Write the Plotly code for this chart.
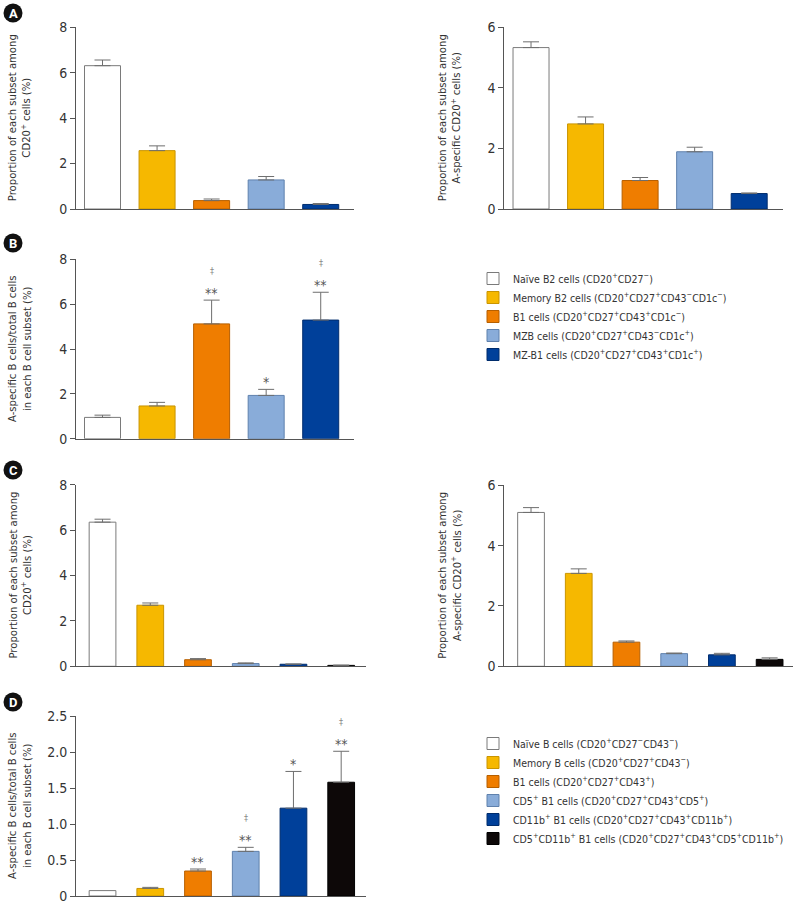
import plotly.graph_objects as go

W, H = 800, 908
FONT = "DejaVu Sans Condensed, Roboto Condensed, Liberation Sans Narrow, Roboto, Arial, sans-serif"

# ---------------- data ----------------
colors5 = ["#ffffff", "#f6b800", "#ef7d00", "#89acd9", "#00409a"]
lines5 = ["#7a7a7a", "#c99400", "#b65f00", "#5f81ad", "#002c6c"]
colors6 = ["#ffffff", "#f6b800", "#ef7d00", "#89acd9", "#00409a", "#0d0808"]
lines6 = ["#7a7a7a", "#c99400", "#b65f00", "#5f81ad", "#002c6c", "#000000"]

labels_B = [
    "Naïve B2 cells (CD20<sup>+</sup>CD27<sup>−</sup>)",
    "Memory B2 cells (CD20<sup>+</sup>CD27<sup>+</sup>CD43<sup>−</sup>CD1c<sup>−</sup>)",
    "B1 cells (CD20<sup>+</sup>CD27<sup>+</sup>CD43<sup>+</sup>CD1c<sup>−</sup>)",
    "MZB cells (CD20<sup>+</sup>CD27<sup>+</sup>CD43<sup>−</sup>CD1c<sup>+</sup>)",
    "MZ-B1 cells (CD20<sup>+</sup>CD27<sup>+</sup>CD43<sup>+</sup>CD1c<sup>+</sup>)",
]
labels_D = [
    "Naïve B cells (CD20<sup>+</sup>CD27<sup>−</sup>CD43<sup>−</sup>)",
    "Memory B cells (CD20<sup>+</sup>CD27<sup>+</sup>CD43<sup>−</sup>)",
    "B1 cells (CD20<sup>+</sup>CD27<sup>+</sup>CD43<sup>+</sup>)",
    "CD5<sup>+</sup> B1 cells (CD20<sup>+</sup>CD27<sup>+</sup>CD43<sup>+</sup>CD5<sup>+</sup>)",
    "CD11b<sup>+</sup> B1 cells (CD20<sup>+</sup>CD27<sup>+</sup>CD43<sup>+</sup>CD11b<sup>+</sup>)",
    "CD5<sup>+</sup>CD11b<sup>+</sup> B1 cells (CD20<sup>+</sup>CD27<sup>+</sup>CD43<sup>+</sup>CD5<sup>+</sup>CD11b<sup>+</sup>)",
]

A1_val = [6.31, 2.57, 0.37, 1.28, 0.20]
A1_err = [0.25, 0.21, 0.07, 0.15, 0.04]
A2_val = [5.33, 2.81, 0.94, 1.89, 0.51]
A2_err = [0.19, 0.23, 0.10, 0.15, 0.02]
B_val = [0.95, 1.46, 5.12, 1.93, 5.29]
B_err = [0.10, 0.16, 1.06, 0.27, 1.24]
B_sig = ["", "", "**", "*", "**"]
B_dag = ["", "", "‡", "", "‡"]
C1_val = [6.35, 2.69, 0.29, 0.12, 0.09, 0.04]
C1_err = [0.13, 0.10, 0.05, 0.03, 0.01, 0.01]
C2_val = [5.10, 3.08, 0.80, 0.42, 0.38, 0.23]
C2_err = [0.16, 0.15, 0.04, 0.02, 0.05, 0.05]
D_val = [0.075, 0.105, 0.347, 0.62, 1.22, 1.58]
D_err = [0.0, 0.015, 0.028, 0.056, 0.51, 0.43]
D_sig = ["", "", "**", "**", "*", "**"]
D_dag = ["", "", "", "‡", "", "‡"]

ytitle_prop = "Proportion of each subset among<br>CD20<sup>+</sup> cells (%)"
ytitle_spec = "Proportion of each subset among<br>A-specific CD20<sup>+</sup> cells (%)"
ytitle_ratio = "A-specific B cells/total B cells<br>in each B cell subset (%)"


def fx(px):
    return px / W


def fy(py):
    return 1 - py / H


fig = go.Figure()
layout = dict(
    template="none",
    width=W, height=H, margin=dict(l=0, r=0, t=0, b=0, autoexpand=False),
    paper_bgcolor="white", plot_bgcolor="white",
    barmode="overlay", font=dict(family=FONT, color="#333", size=13),
)

panels = [
    (1, (76, 354), (27.3, 209), [0, 8], [0, 2, 4, 6, 8], ["0", "2", "4", "6", "8"], [-0.486, 4.61], 0.66),
    (2, (504.3, 783), (27.3, 209), [0, 6], [0, 2, 4, 6], ["0", "2", "4", "6"], [-0.49, 4.62], 0.66),
    (3, (76, 354), (259.3, 438.7), [0, 8], [0, 2, 4, 6, 8], ["0", "2", "4", "6", "8"], [-0.486, 4.61], 0.66),
    (4, (76, 366), (484.7, 666.3), [0, 8], [0, 2, 4, 6, 8], ["0", "2", "4", "6", "8"], [-0.556, 5.52], 0.56),
    (5, (504.3, 793), (485.3, 666.3), [0, 6], [0, 2, 4, 6], ["0", "2", "4", "6"], [-0.56, 5.49], 0.56),
    (6, (76, 366), (716, 896), [0, 2.5], [0, 0.5, 1, 1.5, 2, 2.5], ["0", "0.5", "1.0", "1.5", "2.0", "2.5"], [-0.556, 5.52], 0.56),
]

for idx, (xp0, xp1), (yp0, yp1), yr, tv, tt, xr, bw in panels:
    sfx = "" if idx == 1 else str(idx)
    layout["xaxis" + sfx] = dict(
        domain=[fx(xp0), fx(xp1)], range=xr, anchor="y" + sfx,
        showline=True, linecolor="#555", linewidth=1, showticklabels=False,
        ticks="", showgrid=False, zeroline=False, fixedrange=True, automargin=False,
    )
    layout["yaxis" + sfx] = dict(
        domain=[fy(yp1), fy(yp0)], range=yr, anchor="x" + sfx,
        showline=True, linecolor="#555", linewidth=1, ticks="outside",
        ticklen=5, tickcolor="#555", tickvals=tv, ticktext=tt,
        tickfont=dict(family=FONT, size=14, color="#333"),
        showgrid=False, zeroline=False, fixedrange=True, automargin=False,
    )

panel_data = [
    (1, A1_val, A1_err, colors5, lines5, None, None),
    (2, A2_val, A2_err, colors5, lines5, None, None),
    (3, B_val, B_err, colors5, lines5, labels_B, "legend"),
    (4, C1_val, C1_err, colors6, lines6, None, None),
    (5, C2_val, C2_err, colors6, lines6, None, None),
    (6, D_val, D_err, colors6, lines6, labels_D, "legend2"),
]

for idx, vals, errs, cols, lcols, labels, leg in panel_data:
    sfx = "" if idx == 1 else str(idx)
    bw = panels[idx - 1][7]
    for i, (v, e) in enumerate(zip(vals, errs)):
        fig.add_trace(go.Bar(
            x=[i], y=[v], width=[bw],
            marker=dict(color=cols[i], line=dict(color=lcols[i], width=1)),
            error_y=dict(type="data", symmetric=False, array=[e], arrayminus=[0],
                         color="#6e6e6e", thickness=1, width=8, visible=e > 0),
            xaxis="x" + sfx, yaxis="y" + sfx,
            name=labels[i] if labels else "",
            legendgroup="p%d_%d" % (idx, i),
            showlegend=labels is not None,
            legend=leg if leg else "legend",
            hoverinfo="skip",
        ))

annotations = []
for idx, vals, errs, sig, dag in [(3, B_val, B_err, B_sig, B_dag), (6, D_val, D_err, D_sig, D_dag)]:
    sfx = str(idx)
    for i, (v, e, s, d) in enumerate(zip(vals, errs, sig, dag)):
        if s:
            annotations.append(dict(x=i, y=v + e, xref="x" + sfx, yref="y" + sfx,
                                    text=s, showarrow=False, yanchor="bottom", yshift=-3,
                                    font=dict(family=FONT, size=14, color="#555555")))
        if d:
            annotations.append(dict(x=i, y=v + e, xref="x" + sfx, yref="y" + sfx,
                                    text=d, showarrow=False, yanchor="bottom", yshift=22,
                                    font=dict(family=FONT, size=9, color="#888888")))

for cx, py0, py1, txt in [
    (20, 27.3, 209, ytitle_prop), (450, 27.3, 209, ytitle_spec),
    (20, 259.3, 438.7, ytitle_ratio), (20, 484.7, 666.3, ytitle_prop),
    (450, 485.3, 666.3, ytitle_spec), (20, 716, 896, ytitle_ratio),
]:
    annotations.append(dict(x=fx(cx), y=fy((py0 + py1) / 2), xref="paper", yref="paper",
                            text=txt, textangle=-90, showarrow=False,
                            xanchor="center", yanchor="middle",
                            font=dict(family=FONT, size=11.2, color="#333")))

shapes = []
for letter, cx, cy in [("A", 13, 13), ("B", 13, 243), ("C", 13, 470), ("D", 13, 702)]:
    shapes.append(dict(type="circle", xref="paper", yref="paper",
                       x0=fx(cx - 9.5), x1=fx(cx + 9.5), y0=fy(cy + 9.5), y1=fy(cy - 9.5),
                       fillcolor="#111", line=dict(width=0)))
    annotations.append(dict(x=fx(cx), y=fy(cy), xref="paper", yref="paper",
                            text="<b>%s</b>" % letter, showarrow=False,
                            xanchor="center", yanchor="middle",
                            font=dict(family="Roboto, Arial, sans-serif", size=13, color="white")))

layout["annotations"] = annotations
layout["shapes"] = shapes
layout["legend"] = dict(x=fx(473), y=fy(264), xanchor="left", yanchor="top",
                        xref="container", yref="container",
                        font=dict(family=FONT, size=10.5, color="#333"),
                        bgcolor="rgba(0,0,0,0)", tracegroupgap=0, itemclick=False)
layout["legend2"] = dict(x=fx(473), y=fy(729), xanchor="left", yanchor="top",
                         xref="container", yref="container",
                         font=dict(family=FONT, size=10.5, color="#333"),
                         bgcolor="rgba(0,0,0,0)", tracegroupgap=0, itemclick=False)
layout["showlegend"] = True

fig.update_layout(**layout)
fig.write_html("out.html", config={"displayModeBar": False},
               post_script="document.body.style.margin='0';document.body.style.padding='0';")
